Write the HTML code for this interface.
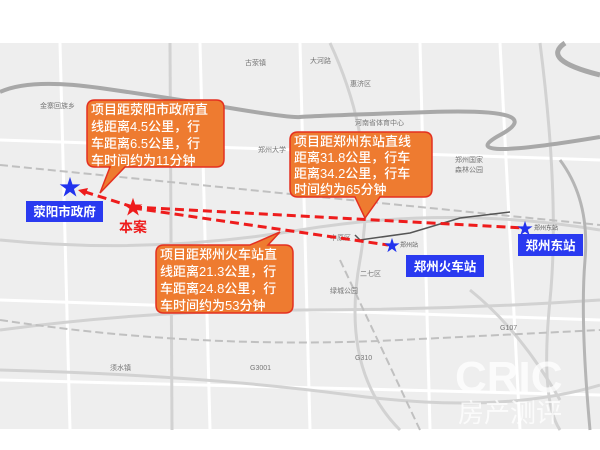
<!DOCTYPE html>
<html><head><meta charset="utf-8"><style>
html,body{margin:0;padding:0;background:#fff;}
body{width:600px;height:450px;position:relative;overflow:hidden;font-family:"Liberation Sans","Noto Sans CJK SC",sans-serif;}
svg{position:absolute;left:0;top:0;}
.t{font-family:"Liberation Sans","Noto Sans CJK SC",sans-serif;}
</style></head><body>
<svg width="600" height="450" viewBox="0 0 600 450">
<rect x="0" y="43" width="600" height="386" fill="#eeeeee"/>
<g stroke="#ffffff" stroke-width="3" fill="none">
<path d="M0 140 L600 160"/><path d="M0 300 L600 320"/><path d="M60 43 L70 430"/><path d="M300 43 L310 430"/>
<path d="M420 43 L430 430"/><path d="M200 43 L210 430"/><path d="M0 380 L600 395"/><path d="M500 43 L520 430"/>
</g>
<g stroke="#d2d2d2" stroke-width="3" fill="none">
<path d="M170 43 L172 430"/><path d="M0 240 Q150 255 300 230 T600 230"/><path d="M0 370 Q200 375 350 395 T600 385"/>
<path d="M540 43 Q560 200 550 300 T560 430"/><path d="M0 330 Q150 310 300 310 T600 300"/>
<path d="M330 43 Q380 150 360 260 T400 430"/><path d="M470 290 Q520 330 560 400"/>
</g>
<g stroke="#c0c0c0" stroke-width="2" stroke-dasharray="8 4" fill="none">
<path d="M0 165 L600 225"/><path d="M0 320 Q200 350 400 340 T600 330"/><path d="M340 260 L420 430"/>
</g>
<path d="M0 92 Q30 78 100 88 T230 108 T300 117 T430 112 T500 135 T600 137" stroke="#a8a8a8" stroke-width="4" fill="none"/>
<path d="M565 43 Q540 60 600 75" stroke="#a8a8a8" stroke-width="5" fill="none"/>
<path d="M560 160 Q590 200 585 260 T590 430" stroke="#b5b5b5" stroke-width="3" fill="none"/>
<path d="M355 235 L360 240 L410 233 L460 218 L510 212" stroke="#555" stroke-width="1.5" fill="none"/>
<g font-size="7" fill="#777" class="t">
<text x="40" y="108">金寨回族乡</text><text x="245" y="65">古荥镇</text><text x="310" y="63">大河路</text>
<text x="350" y="86">惠济区</text><text x="258" y="152">郑州大学</text><text x="355" y="125">河南省体育中心</text>
<text x="455" y="162">郑州国家</text><text x="455" y="172">森林公园</text><text x="330" y="240">中原区</text>
<text x="360" y="276">二七区</text><text x="330" y="293">绿城公园</text><text x="250" y="370">G3001</text>
<text x="355" y="360">G310</text><text x="500" y="330">G107</text><text x="110" y="370">须水镇</text>
</g>
<text x="455" y="392" font-size="44" font-weight="bold" fill="#ffffff" fill-opacity="0.75" class="t">CRIC</text>
<text x="458" y="422" font-size="26" fill="#ffffff" fill-opacity="0.75" class="t">房产测评</text>
<g stroke="#ee1c1c" stroke-width="3" stroke-dasharray="9 5" fill="none">
<path d="M133 207 L525 228"/><path d="M133 208 L388 245"/><path d="M133 207 L82 191"/>
</g>
<path d="M78 190 L88 188 L85 196 Z" fill="#ee1c1c"/>
<g fill="#ee7b30" stroke="#e43020" stroke-width="1.5">
<path d="M95 100 H216 Q224 100 224 108 V159 Q224 167 216 167 H125 L100 193 L110 167 H95 Q87 167 87 159 V108 Q87 100 95 100 Z"/>
<path d="M298 132 H424 Q432 132 432 140 V189 Q432 197 424 197 H380 L365 218 L355 197 H298 Q290 197 290 189 V140 Q290 132 298 132 Z"/>
<path d="M164 245 H250 L280 232 L268 245 H285 Q293 245 293 253 V305 Q293 313 285 313 H164 Q156 313 156 305 V253 Q156 245 164 245 Z"/>
</g>
<g fill="#ffffff" font-size="13" font-weight="500" class="t">
<text x="91" y="114">项目距荥阳市政府直</text><text x="91" y="131">线距离4.5公里，行</text><text x="91" y="148">车距离6.5公里，行</text><text x="91" y="165">车时间约为11分钟</text>
<text x="294" y="146">项目距郑州东站直线</text><text x="294" y="162">距离31.8公里，行车</text><text x="294" y="178">距离34.2公里，行车</text><text x="294" y="194">时间约为65分钟</text>
<text x="160" y="259">项目距郑州火车站直</text><text x="160" y="276">线距离21.3公里，行</text><text x="160" y="293">车距离24.8公里，行</text><text x="160" y="310">车时间约为53分钟</text>
</g>
<text x="70" y="195" fill="#2233ee" font-size="22" text-anchor="middle" class="t">★</text>
<g fill="#2233ee" font-size="16" class="t" text-anchor="middle">
<text x="392" y="251">★</text><text x="525" y="234">★</text>
</g>
<text x="133" y="214" fill="#ee1c1c" font-size="20" text-anchor="middle" class="t">★</text>
<text x="133" y="232" fill="#ee1c1c" font-size="14" font-weight="bold" text-anchor="middle" class="t">本案</text>
<rect x="26" y="201" width="77" height="21" fill="#2a3af0"/>
<text x="64.5" y="216" fill="#fff" font-size="12.5" font-weight="bold" text-anchor="middle" class="t">荥阳市政府</text>
<rect x="406" y="255" width="78" height="22" fill="#2a3af0"/>
<text x="445" y="271" fill="#fff" font-size="12.5" font-weight="bold" text-anchor="middle" class="t">郑州火车站</text>
<rect x="518" y="234" width="65" height="22" fill="#2a3af0"/>
<text x="550.5" y="250" fill="#fff" font-size="12.5" font-weight="bold" text-anchor="middle" class="t">郑州东站</text>
<text x="400" y="247" font-size="6" fill="#555" class="t">郑州站</text>
<text x="534" y="230" font-size="6" fill="#555" class="t">郑州东站</text>
</svg>
</body></html>
